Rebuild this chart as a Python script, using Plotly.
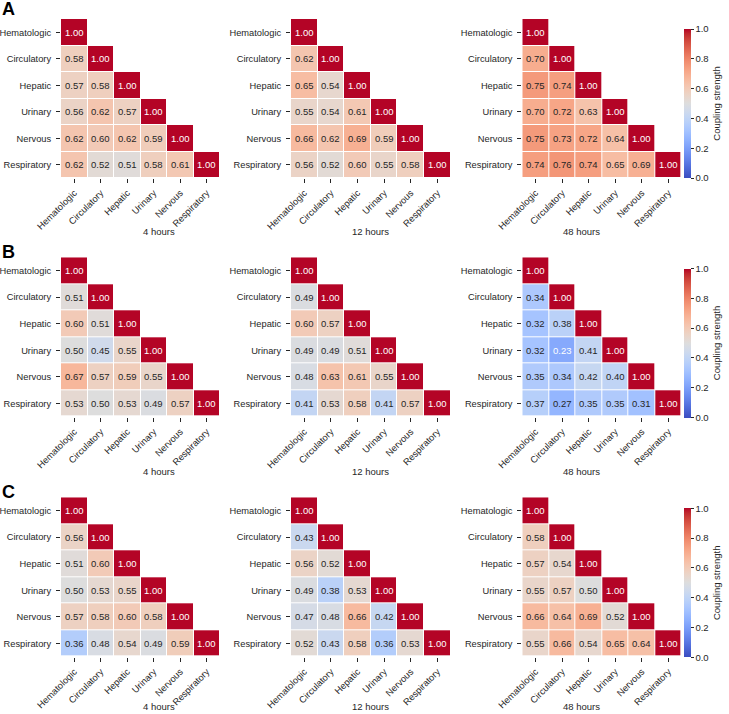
import plotly.graph_objects as go

systems = ["Hematologic", "Circulatory", "Hepatic", "Urinary", "Nervous", "Respiratory"]
times = ["4 hours", "12 hours", "48 hours"]
panel_letters = ["A", "B", "C"]

# Lower-triangle values (row i holds columns 0..i-1); diagonal is 1.00
A_4h = [[0.58], [0.57, 0.58], [0.56, 0.62, 0.57], [0.62, 0.60, 0.62, 0.59], [0.62, 0.52, 0.51, 0.58, 0.61]]
A_12h = [[0.62], [0.65, 0.54], [0.55, 0.54, 0.61], [0.66, 0.62, 0.69, 0.59], [0.56, 0.52, 0.60, 0.55, 0.58]]
A_48h = [[0.70], [0.75, 0.74], [0.70, 0.72, 0.63], [0.75, 0.73, 0.72, 0.64], [0.74, 0.76, 0.74, 0.65, 0.69]]
B_4h = [[0.51], [0.60, 0.51], [0.50, 0.45, 0.55], [0.67, 0.57, 0.59, 0.55], [0.53, 0.50, 0.53, 0.49, 0.57]]
B_12h = [[0.49], [0.60, 0.57], [0.49, 0.49, 0.51], [0.48, 0.63, 0.61, 0.55], [0.41, 0.53, 0.58, 0.41, 0.57]]
B_48h = [[0.34], [0.32, 0.38], [0.32, 0.23, 0.41], [0.35, 0.34, 0.42, 0.40], [0.37, 0.27, 0.35, 0.35, 0.31]]
C_4h = [[0.56], [0.51, 0.60], [0.50, 0.53, 0.55], [0.57, 0.58, 0.60, 0.58], [0.36, 0.48, 0.54, 0.49, 0.59]]
C_12h = [[0.43], [0.56, 0.52], [0.49, 0.38, 0.53], [0.47, 0.48, 0.66, 0.42], [0.52, 0.43, 0.58, 0.36, 0.53]]
C_48h = [[0.58], [0.57, 0.54], [0.55, 0.57, 0.50], [0.66, 0.64, 0.69, 0.52], [0.55, 0.66, 0.54, 0.65, 0.64]]

grid = [[A_4h, A_12h, A_48h], [B_4h, B_12h, B_48h], [C_4h, C_12h, C_48h]]

# matplotlib "coolwarm" (Moreland) samples
coolwarm = [
    (59, 76, 192), (68, 90, 204), (77, 104, 215), (87, 117, 225), (98, 130, 234),
    (108, 142, 241), (119, 154, 247), (130, 165, 251), (141, 176, 254), (152, 185, 255),
    (163, 194, 255), (174, 201, 253), (184, 208, 249), (194, 213, 244), (204, 217, 238),
    (213, 219, 230), (221, 221, 221), (229, 216, 209), (236, 211, 197), (241, 204, 185),
    (245, 196, 173), (247, 187, 160), (247, 177, 148), (247, 166, 135), (244, 154, 123),
    (241, 141, 111), (236, 127, 99), (229, 112, 88), (222, 96, 77), (213, 80, 66),
    (203, 62, 56), (192, 40, 47), (180, 4, 38)]
n = len(coolwarm) - 1
colorscale = [[i / n, "rgb(%d,%d,%d)" % c] for i, c in enumerate(coolwarm)]


def cmap(v):
    v = min(max(v, 0.0), 1.0) * n
    i = min(int(v), n - 1)
    f = v - i
    a, b = coolwarm[i], coolwarm[i + 1]
    return tuple(a[k] + (b[k] - a[k]) * f for k in range(3))


def lum(c):
    def ch(x):
        x = x / 255.0
        return x / 12.92 if x <= 0.03928 else ((x + 0.055) / 1.055) ** 2.4
    r, g, b = (ch(x) for x in c)
    return 0.2126 * r + 0.7152 * g + 0.0722 * b


W, H = 729, 714
col_px = [(61, 220), (291, 450.7), (522.3, 681.7)]
row_px = [(19, 178), (257.3, 416.7), (497.3, 656.7)]
cbar_px = [(29, 178), (268.3, 417.7), (508.3, 657.3)]
letter_px = [9.5, 251.5, 491.5]
xtitle_px = [232, 471, 706]

FONT = "Liberation Sans, Arial, sans-serif"
TXT = "#262626"
fsz = 9.5
tsz = 9.3

fig = go.Figure()
annotations = []
layout = {}

for r in range(3):
    ca = "coloraxis" if r == 0 else "coloraxis%d" % (r + 1)
    cy = 1 - (cbar_px[r][0] + cbar_px[r][1]) / 2 / H
    layout[ca] = dict(
        cmin=0, cmax=1, colorscale=colorscale, showscale=True,
        colorbar=dict(
            x=684 / W, xanchor="left", y=cy, yanchor="middle", xpad=0, ypad=0,
            len=cbar_px[r][1] - cbar_px[r][0], lenmode="pixels",
            thickness=7, thicknessmode="pixels", outlinewidth=0,
            ticks="outside", ticklen=3, tickcolor=TXT, tickwidth=1,
            tickvals=[0, 0.2, 0.4, 0.6, 0.8, 1.0], tickformat=".1f",
            tickfont=dict(family=FONT, size=fsz, color=TXT),
            title=dict(text="Coupling strength", side="right",
                       font=dict(family=FONT, size=fsz, color=TXT)),
        ))
    annotations.append(dict(
        text="<b>%s</b>" % panel_letters[r], x=0, xanchor="left", xref="paper", yref="paper",
        y=1 - letter_px[r] / H, yanchor="middle", showarrow=False,
        font=dict(family=FONT, size=18, color="black")))
    for c in range(3):
        k = r * 3 + c + 1
        tri = grid[r][c]
        z = []
        for i in range(6):
            row = []
            for j in range(6):
                if j < i:
                    row.append(tri[i - 1][j])
                elif j == i:
                    row.append(1.0)
                else:
                    row.append(None)
            z.append(row)
        xs = "x" if k == 1 else "x%d" % k
        ys = "y" if k == 1 else "y%d" % k
        fig.add_trace(go.Heatmap(
            z=z, x=list(range(6)), y=list(range(6)), coloraxis=ca,
            xgap=1, ygap=1, xaxis=xs, yaxis=ys, hoverinfo="skip"))
        xd = [col_px[c][0] / W, col_px[c][1] / W]
        yd = [1 - row_px[r][1] / H, 1 - row_px[r][0] / H]
        axf = dict(family=FONT, size=tsz, color=TXT)
        layout["xaxis" if k == 1 else "xaxis%d" % k] = dict(
            domain=xd, anchor=ys, range=[-0.5, 5.5], tickvals=list(range(6)),
            ticktext=systems, tickangle=-45, ticks="outside", ticklen=4,
            tickcolor=TXT, showgrid=False, zeroline=False, showline=False,
            tickfont=axf, fixedrange=True, automargin=False, ticklabelstandoff=1)
        layout["yaxis" if k == 1 else "yaxis%d" % k] = dict(
            domain=yd, anchor=xs, range=[5.5, -0.5], tickvals=list(range(6)),
            ticktext=systems, ticks="outside", ticklen=4, tickcolor=TXT,
            showgrid=False, zeroline=False, showline=False, tickfont=axf,
            fixedrange=True, automargin=False, ticklabelstandoff=3)
        for i in range(6):
            for j in range(i + 1):
                v = z[i][j]
                tc = "#ffffff" if lum(cmap(v)) <= 0.408 else TXT
                annotations.append(dict(
                    text="%.2f" % v, x=j, y=i, xref=xs, yref=ys, showarrow=False,
                    font=dict(family=FONT, size=fsz, color=tc)))
        annotations.append(dict(
            text=times[c], x=(col_px[c][0] + col_px[c][1]) / 2 / W, xref="paper",
            y=1 - xtitle_px[r] / H, yref="paper", yanchor="middle", showarrow=False,
            font=dict(family=FONT, size=fsz, color=TXT)))

fig.update_layout(
    template="none",
    width=W, height=H, margin=dict(l=0, r=0, t=0, b=0, autoexpand=False),
    paper_bgcolor="white", plot_bgcolor="white",
    font=dict(family=FONT, size=fsz, color=TXT),
    annotations=annotations, **layout)

fig.write_html("out.html")
